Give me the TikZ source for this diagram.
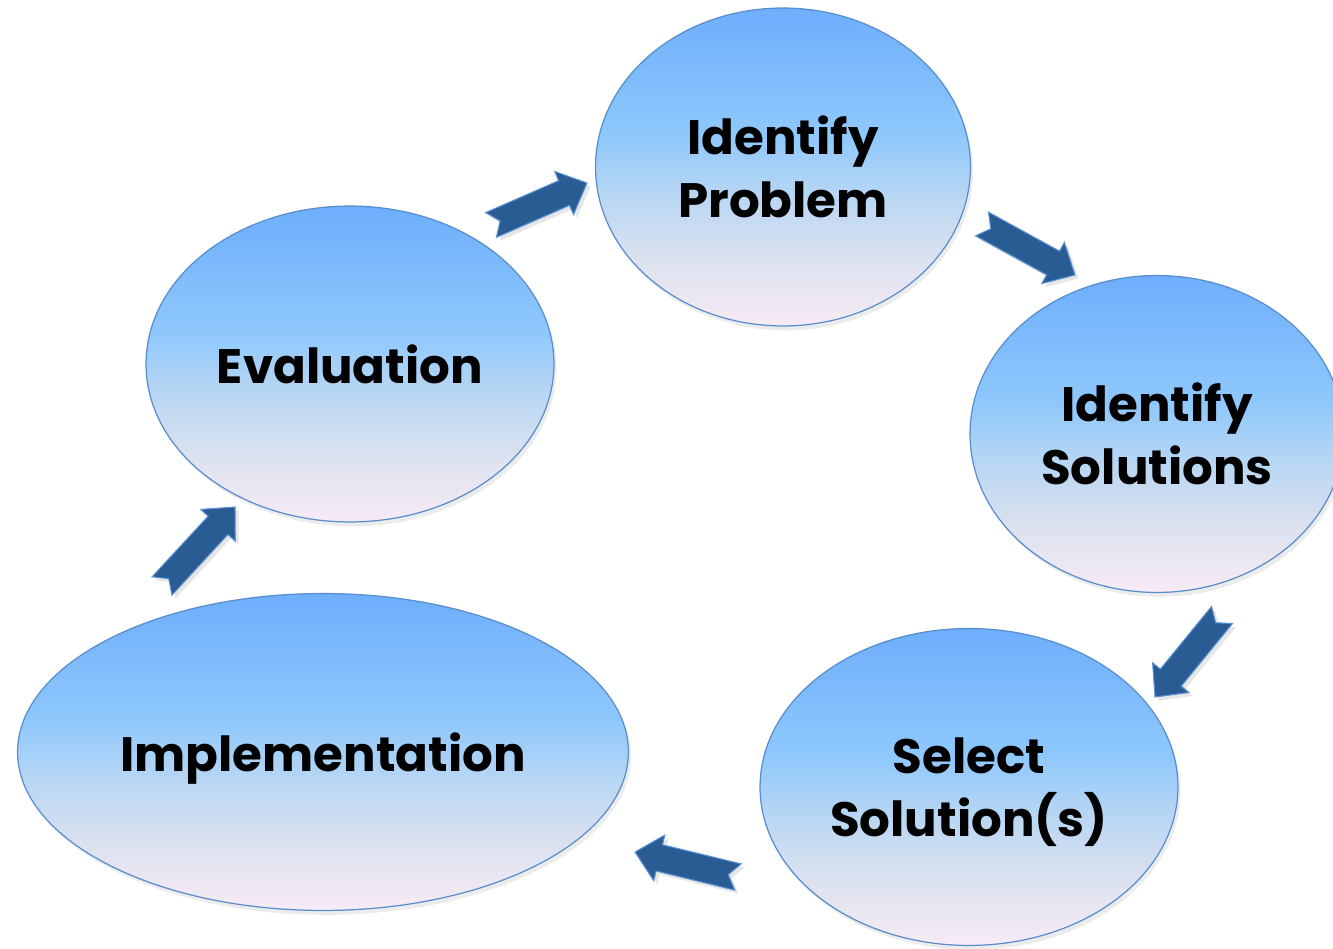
\documentclass[tikz,border=0pt]{standalone}
\usepackage{fontspec}
\setmainfont{Poppins}
\usetikzlibrary{shapes.geometric,calc,shadows}

\definecolor{topblue}{RGB}{110,174,252}
\definecolor{skyblue}{RGB}{142,200,252}
\definecolor{paleblue}{RGB}{186,215,243}
\definecolor{greyblue}{RGB}{221,226,239}
\definecolor{botpink}{RGB}{247,235,246}
\definecolor{rimblue}{RGB}{88,141,206}
\definecolor{arrowblue}{RGB}{42,92,148}
\definecolor{arrowrim}{RGB}{92,146,211}

\pgfdeclareverticalshading{stageshade}{100bp}{color(0bp)=(botpink); color(25bp)=(botpink);
  color(35bp)=(greyblue); color(45bp)=(paleblue); color(55bp)=(skyblue);
  color(75bp)=(topblue); color(100bp)=(topblue)}

% block arrow with notched tail, from #1 (tail) to #2 (tip)
\newcommand{\cyclearrow}[2]{%
  \coordinate (base) at ($(#2)!0.5cm!(#1)$);
  \filldraw[bigarrow] ($(#1)!0.27cm!90:(#2)$) -- ($(base)!0.27cm!-90:(#1)$)
    -- ($(base)!0.47cm!-90:(#1)$) -- (#2) -- ($(base)!0.47cm!90:(#1)$)
    -- ($(base)!0.27cm!90:(#1)$) -- ($(#1)!0.27cm!-90:(#2)$)
    -- ($(#1)!0.2cm!(#2)$) -- cycle;}

\begin{document}
\begin{tikzpicture}[x=0.02cm,y=-0.02cm,
  stagebox/.style={ellipse, draw=rimblue, line width=0.7pt, inner sep=0pt,
    shading=stageshade, text depth=0pt,
    drop shadow={opacity=0.15, shadow xshift=1.5pt, shadow yshift=-2.5pt},
    align=center, font=\bfseries\fontsize{27.5}{36}\selectfont},
  bigarrow/.style={fill=arrowblue, draw=arrowrim, line width=0.6pt, line join=miter,
    drop shadow={opacity=0.2, shadow xshift=2pt, shadow yshift=-2pt}}]
 \useasboundingbox (0,0) rectangle (1333,949);
 \node (prob) [stagebox, minimum width=7.5cm, minimum height=6.36cm] at (783,167) {Identify\\Problem};
 \node (sol) [stagebox, minimum width=7.48cm, minimum height=6.34cm] at (1157,434) {Identify\\Solutions};
 \node (sel) [stagebox, minimum width=8.36cm, minimum height=6.34cm] at (969,787) {Select\\Solution(s)};
 \node (impl) [stagebox, minimum width=12.22cm, minimum height=6.34cm] at (323,752) {Implementation};
 \node (eval) [stagebox, minimum width=8.16cm, minimum height=6.32cm] at (350,364) {Evaluation};

 \coordinate (t1) at (491,225);  \coordinate (h1) at (587,183);
 \coordinate (t2) at (982,224);  \coordinate (h2) at (1075,275);
 \coordinate (t3) at (1222,615); \coordinate (h3) at (1155,697);
 \coordinate (t4) at (738,877);  \coordinate (h4) at (635,852);
 \coordinate (t5) at (162,586);  \coordinate (h5) at (235,507);
 \foreach \i in {1,...,5} {\cyclearrow{t\i}{h\i}}
\end{tikzpicture}
\end{document}
